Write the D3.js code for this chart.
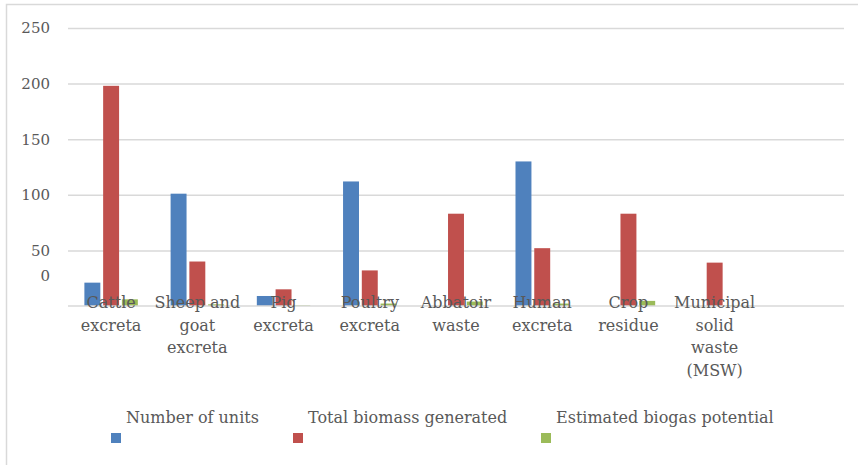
<!DOCTYPE html>
<html>
<head>
<meta charset="utf-8">
<script src="https://cdn.jsdelivr.net/npm/d3@7"></script>
<style>
  body { margin: 0; background: #fff; }
  text { font-family: "DejaVu Serif", "Liberation Serif", serif; fill: #595959; }
</style>
</head>
<body>
<svg id="chart" width="858" height="465"></svg>
<script>
'use strict'

// data
const categories = [
  ['Cattle', 'excreta'],
  ['Sheep and', 'goat', 'excreta'],
  ['Pig', 'excreta'],
  ['Poultry', 'excreta'],
  ['Abbatoir', 'waste'],
  ['Human', 'excreta'],
  ['Crop', 'residue'],
  ['Municipal', 'solid', 'waste', '(MSW)'],
  ['']
]
const seriesNames = ['Number of units', 'Total biomass generated', 'Estimated biogas potential']
const numberOfUnits = [21, 101, 9, 112, 0, 130, 0, 0, null]
const totalBiomass = [198, 40, 15, 32, 83, 52, 83, 39, null]
const biogasPotential = [6, 1.5, 0.5, 2.2, 4, 2.2, 4.6, 0.5, null]
const yTicks = [50, 100, 150, 200, 250]
const colors = ['#4f81bd', '#c0504d', '#9bbb59']

;(function (d3) {
  const svg = d3.select('#chart')
  const plot = { left: 68, right: 844, top: 28, bottom: 306 }

  // chart frame (right/bottom edges fall outside the picture)
  svg.append('rect')
    .attr('x', 6.5).attr('y', 4.5)
    .attr('width', 900).attr('height', 500)
    .attr('fill', 'none').attr('stroke', '#d9d9d9').attr('stroke-width', 1.5)

  const x = d3.scaleBand()
    .domain(d3.range(categories.length))
    .range([plot.left, plot.right])

  const y = d3.scaleLinear()
    .domain([0, 250])
    .range([plot.bottom, plot.top])

  const x1 = d3.scaleBand()
    .domain(d3.range(seriesNames.length))
    .range([x.bandwidth() * 0.19, x.bandwidth() * 0.81])
    .paddingInner(0.15)

  // gridlines + tick labels
  const yAxis = d3.axisLeft(y)
    .tickValues(yTicks)
    .tickSize(-(plot.right - plot.left))
    .tickPadding(18)

  const ga = svg.append('g')
    .attr('transform', `translate(${plot.left},0)`)
    .call(yAxis)
  ga.select('.domain').remove()
  ga.selectAll('line').attr('stroke', '#d9d9d9').attr('stroke-width', 1.5)
  ga.selectAll('text')
    .attr('font-family', null)
    .attr('fill', '#595959')
    .attr('font-size', 15)

  // the stray "0" label sits above the baseline in the reference
  svg.append('text')
    .attr('x', plot.left - 18).attr('y', y(0) - 30)
    .attr('text-anchor', 'end').attr('dy', '0.32em')
    .attr('font-size', 15)
    .text('0')

  // bars
  const series = [numberOfUnits, totalBiomass, biogasPotential]
  series.forEach((vals, s) => {
    svg.append('g')
      .selectAll('rect')
      .data(vals.map((v, i) => ({ i, v })).filter(d => d.v))
      .join('rect')
      .attr('x', d => x(d.i) + x1(s))
      .attr('width', x1.bandwidth())
      .attr('y', d => y(d.v))
      .attr('height', d => y(0) - y(d.v))
      .attr('fill', colors[s])
  })

  // baseline
  svg.append('line')
    .attr('x1', plot.left).attr('x2', plot.right)
    .attr('y1', y(0)).attr('y2', y(0))
    .attr('stroke', '#d9d9d9').attr('stroke-width', 1.5)

  // category labels, drawn over the bars as in the original
  const labels = svg.append('g')
  categories.forEach((lines, i) => {
    const t = labels.append('text')
      .attr('text-anchor', 'middle')
      .attr('font-size', 16)
    lines.forEach((ln, k) => {
      t.append('tspan')
        .attr('x', x(i) + x.bandwidth() / 2)
        .attr('y', 308 + k * 22.5)
        .text(ln)
    })
  })

  // legend
  const legendX = [111, 293, 541]
  seriesNames.forEach((name, s) => {
    svg.append('rect')
      .attr('x', legendX[s]).attr('y', 433)
      .attr('width', 10).attr('height', 10)
      .attr('fill', colors[s])
    svg.append('text')
      .attr('x', legendX[s] + 15).attr('y', 423)
      .attr('font-size', 16)
      .text(name)
  })
})(d3)
</script>
</body>
</html>
